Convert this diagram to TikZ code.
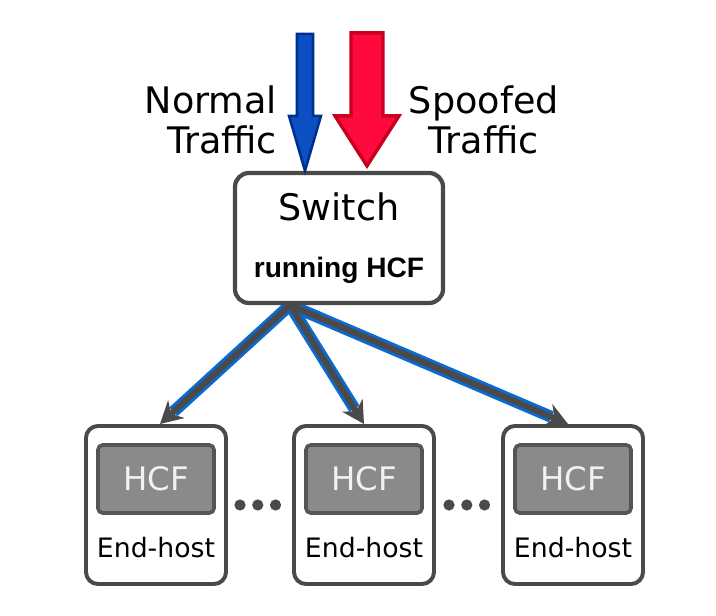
\documentclass[tikz,border=0pt]{standalone}
\usepackage{fontspec}
\setmainfont{DejaVu Sans}
\newfontfamily\arialfont{Liberation Sans}
\usepackage{tikz}
\usetikzlibrary{arrows.meta, positioning, calc, backgrounds}
\definecolor{boxgray}{HTML}{4A4A4A}
\definecolor{linkblue}{HTML}{0A6AD0}
\definecolor{normalfill}{HTML}{0B4FC2}
\definecolor{normaldraw}{HTML}{00308F}
\definecolor{spooffill}{HTML}{FF0A3E}
\definecolor{spoofdraw}{HTML}{C8001E}
\definecolor{hcffill}{HTML}{8A8A8A}
\definecolor{hcfdraw}{HTML}{555555}

\begin{document}
\begin{tikzpicture}[
    x=0.025cm, y=-0.025cm,
    switchbox/.style={rectangle, draw=boxgray, line width=3pt, rounded corners=0.35cm, fill=white, minimum width=5.2cm, minimum height=3.25cm},
    hostbox/.style={rectangle, draw=boxgray, line width=2.8pt, rounded corners=0.3cm, fill=white, minimum width=3.5cm, minimum height=3.95cm},
    hcfbox/.style={rectangle, draw=hcfdraw, line width=2.6pt, rounded corners=0.12cm, fill=hcffill, minimum width=2.9cm, minimum height=1.7cm, text=white!90!gray, font=\fontsize{23}{27}\selectfont},
    hostlabel/.style={font=\fontsize{19}{23}\selectfont},
    trafficlabel/.style={font=\fontsize{26}{28.5}\selectfont},
    normalarrow/.style={fill=normalfill, draw=normaldraw, line width=1.8pt, line join=miter},
    spoofarrow/.style={fill=spooffill, draw=spoofdraw, line width=2.4pt, line join=miter},
    dot/.style={circle, fill=boxgray, inner sep=0pt, minimum size=0.28cm},
    linkouter/.style={line width=8.5pt, color=linkblue, shorten >=0.45cm},
    linkinner/.style={line width=4.4pt, color=boxgray, -{Stealth[length=0.55cm, width=0.6cm]}}
]
\node[switchbox] (switch) at (339,238) {};
\node[font=\fontsize{26}{30}\selectfont] (swname) at ($(switch.center)+(0,-31)$) {Switch};
\node[font=\arialfont\bfseries\fontsize{20}{24}\selectfont] (swrole) at ($(switch.center)+(0,32)$) {running HCF};

\coordinate (normtip) at ($(switch.north)+(-34,0)$);
\coordinate (spooftip) at ($(switch.north)+(28,-5)$);
\filldraw[normalarrow] (normtip) -- ++(-16,-55) -- ++(8,0) -- ++(0,-82) -- ++(16,0) -- ++(0,82) -- ++(8,0) -- cycle;
\filldraw[spoofarrow] (spooftip) -- ++(-32,-50) -- ++(16,0) -- ++(0,-83) -- ++(32,0) -- ++(0,83) -- ++(16,0) -- cycle;
\node[trafficlabel, align=right, anchor=east] (normallbl) at (282,120) {Normal\\Traffic};
\node[trafficlabel, align=center, anchor=west] (spooflbl) at (404,120) {Spoofed\\Traffic};

\node[hostbox] (host1) at (156,505) {};
\node[hostbox] (host2) at (364,505) {};
\node[hostbox] (host3) at (573,505) {};
\node[hcfbox] (hcf1) at ($(host1.north)+(0,55)$) {HCF};
\node[hcfbox] (hcf2) at ($(host2.north)+(0,55)$) {HCF};
\node[hcfbox] (hcf3) at ($(host3.north)+(0,55)$) {HCF};
\node[hostlabel] (eh1) at ($(host1.north)+(0,124)$) {End-host};
\node[hostlabel] (eh2) at ($(host2.north)+(0,124)$) {End-host};
\node[hostlabel] (eh3) at ($(host3.north)+(0,124)$) {End-host};

\node[dot] (d1) at (240,505) {};
\node[dot, right=0.15cm of d1] (d2) {};
\node[dot, right=0.15cm of d2] (d3) {};
\node[dot] (d4) at (449,505) {};
\node[dot, right=0.15cm of d4] (d5) {};
\node[dot, right=0.15cm of d5] (d6) {};

\begin{scope}[on background layer]
\fill[white] (0,0) rectangle (716,616);
\coordinate (fan) at ($(switch.south)+(-49,0)$);
\draw[linkouter] (fan) -- ($(host1.north)+(4,0)$);
\draw[linkouter] (fan) -- ($(host2.north)+(0,0)$);
\draw[linkouter] (fan) -- ($(host3.north)+(-5,0)$);
\draw[linkinner] (fan) -- ($(host1.north)+(4,0)$);
\draw[linkinner] (fan) -- ($(host2.north)+(0,0)$);
\draw[linkinner] (fan) -- ($(host3.north)+(-5,0)$);
\end{scope}
\end{tikzpicture}
\end{document}
